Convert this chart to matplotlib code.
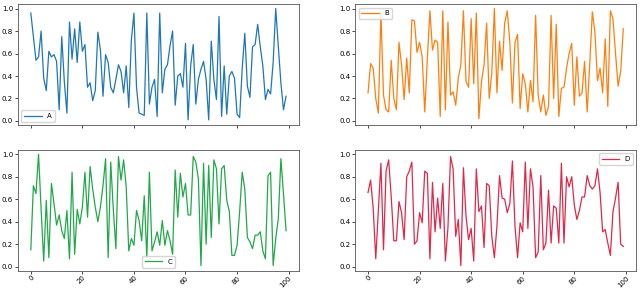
import matplotlib
matplotlib.use("Agg")
import matplotlib.pyplot as plt
import numpy as np

A = [0.96, 0.75, 0.54, 0.57, 0.80, 0.38, 0.27, 0.62, 0.57, 0.59,
     0.53, 0.10, 0.75, 0.35, 0.07, 0.88, 0.55, 0.82, 0.52, 0.88,
     0.62, 0.68, 0.30, 0.34, 0.18, 0.27, 0.79, 0.63, 0.22, 0.59,
     0.52, 0.30, 0.25, 0.37, 0.50, 0.44, 0.25, 0.49, 0.12, 0.72,
     0.96, 0.30, 0.07, 0.06, 0.05, 0.96, 0.15, 0.30, 0.37, 0.04,
     0.96, 0.25, 0.46, 0.50, 0.67, 0.80, 0.14, 0.40, 0.42, 0.30,
     0.69, 0.01, 0.49, 0.68, 0.15, 0.37, 0.46, 0.53, 0.37, 0.01,
     0.71, 0.37, 0.19, 0.93, 0.04, 0.49, 0.06, 0.40, 0.44, 0.38,
     0.06, 0.03, 0.47, 0.78, 0.31, 0.21, 0.66, 0.68, 0.86, 0.66,
     0.49, 0.19, 0.28, 0.24, 0.52, 1.00, 0.66, 0.34, 0.10, 0.22]

B = [0.25, 0.51, 0.47, 0.20, 0.07, 0.96, 0.23, 0.10, 0.08, 0.54,
     0.20, 0.10, 0.70, 0.50, 0.19, 0.56, 0.25, 0.90, 0.89, 0.61,
     0.70, 0.57, 0.08, 0.55, 0.98, 0.63, 0.72, 0.70, 0.04, 0.98,
     0.10, 0.88, 0.23, 0.26, 0.14, 0.38, 0.50, 0.98, 0.35, 0.30,
     0.91, 0.33, 0.96, 0.02, 0.35, 0.50, 0.87, 0.20, 0.42, 1.00,
     0.25, 0.71, 0.45, 0.87, 0.98, 0.70, 0.16, 0.70, 0.77, 0.11,
     0.42, 0.33, 0.08, 0.36, 0.17, 0.94, 0.23, 0.08, 0.23, 0.05,
     0.13, 0.94, 0.20, 0.86, 0.04, 0.29, 0.30, 0.47, 0.60, 0.69,
     0.14, 0.57, 0.22, 0.25, 0.53, 0.08, 0.51, 0.97, 0.79, 0.36,
     0.47, 0.25, 0.73, 0.13, 0.98, 0.91, 0.60, 0.31, 0.44, 0.82]

C = [0.15, 0.72, 0.65, 1.00, 0.51, 0.05, 0.59, 0.08, 0.74, 0.56,
     0.37, 0.46, 0.32, 0.25, 0.50, 0.07, 0.84, 0.11, 0.51, 0.38,
     0.53, 0.84, 0.44, 0.89, 0.69, 0.53, 0.40, 0.53, 0.72, 0.96,
     0.08, 0.93, 0.51, 0.16, 0.98, 0.77, 0.95, 0.71, 0.14, 0.25,
     0.19, 0.50, 0.41, 0.23, 0.63, 0.08, 0.84, 0.14, 0.22, 0.31,
     0.19, 0.41, 0.19, 0.32, 0.23, 0.11, 0.86, 0.44, 0.83, 0.62,
     0.74, 0.46, 0.46, 0.98, 0.93, 0.78, 0.01, 0.92, 0.20, 0.90,
     0.26, 0.95, 0.87, 0.38, 0.87, 0.90, 0.59, 0.49, 0.10, 0.10,
     0.19, 0.49, 0.84, 0.69, 0.26, 0.22, 0.16, 0.28, 0.28, 0.31,
     0.14, 0.07, 0.81, 0.84, 0.01, 0.25, 0.43, 0.96, 0.65, 0.32]

D = [0.66, 0.77, 0.52, 0.07, 0.50, 0.92, 0.15, 0.85, 0.95, 0.62,
     0.23, 0.23, 0.58, 0.48, 0.24, 0.80, 0.85, 0.93, 0.20, 0.23,
     0.48, 0.39, 0.85, 0.83, 0.07, 0.75, 0.31, 0.61, 0.34, 0.74,
     0.05, 0.35, 0.98, 0.87, 0.27, 0.42, 0.01, 0.88, 0.45, 0.24,
     0.34, 0.05, 0.87, 0.49, 0.54, 0.17, 0.74, 0.72, 0.27, 0.08,
     0.36, 0.81, 0.61, 0.60, 0.48, 0.56, 0.94, 0.36, 0.08, 0.39,
     0.31, 0.93, 0.34, 0.87, 0.71, 0.08, 0.13, 0.81, 0.15, 0.21,
     0.68, 0.21, 0.54, 0.52, 0.21, 0.92, 0.21, 0.80, 0.71, 0.80,
     0.55, 0.42, 0.50, 0.62, 0.62, 0.81, 0.72, 0.69, 0.72, 0.87,
     0.66, 0.31, 0.33, 0.21, 0.10, 0.49, 0.61, 0.75, 0.20, 0.18]

names = ["A", "B", "C", "D"]
series = [A, B, C, D]
colors = ["#1f77b4", "#ff7f0e", "#22a84a", "#e0284a"]
legend_locs = ["lower left", "upper left", "lower center", "upper right"]
xticks = [0, 20, 40, 60, 80, 100]
yticks = [0.0, 0.2, 0.4, 0.6, 0.8, 1.0]

fig, axes = plt.subplots(2, 2, figsize=(6.4, 2.9), dpi=100, sharex=True)
fig.subplots_adjust(left=0.028, right=0.994, top=0.986, bottom=0.065,
                    wspace=0.2, hspace=0.2)

x = np.arange(len(A))
for ax, name, vals, col, loc in zip(axes.flat, names, series, colors, legend_locs):
    ax.plot(x, vals, color=col, linewidth=0.9, label=name)
    ax.set_yticks(yticks)
    ax.set_xticks(xticks)
    ax.tick_params(labelsize=5, length=2, width=0.5, pad=1.5)
    for s in ax.spines.values():
        s.set_linewidth(0.6)
        s.set_color("#555555")
    ax.legend(loc=loc, fontsize=5, handlelength=2.5, borderpad=0.4,
              frameon=True, framealpha=0.8, edgecolor="#cccccc")
    ax.set_ylim(-0.04, 1.04)
    ax.set_xlim(-5, 104)

for ax in axes[0]:
    ax.tick_params(labelbottom=False)
for ax in axes[1]:
    ax.tick_params(axis="x", pad=0.5)
    for lab in ax.get_xticklabels():
        lab.set_rotation(45)
        lab.set_ha("right")
        lab.set_rotation_mode("anchor")

fig.savefig("out.png", dpi=100)
